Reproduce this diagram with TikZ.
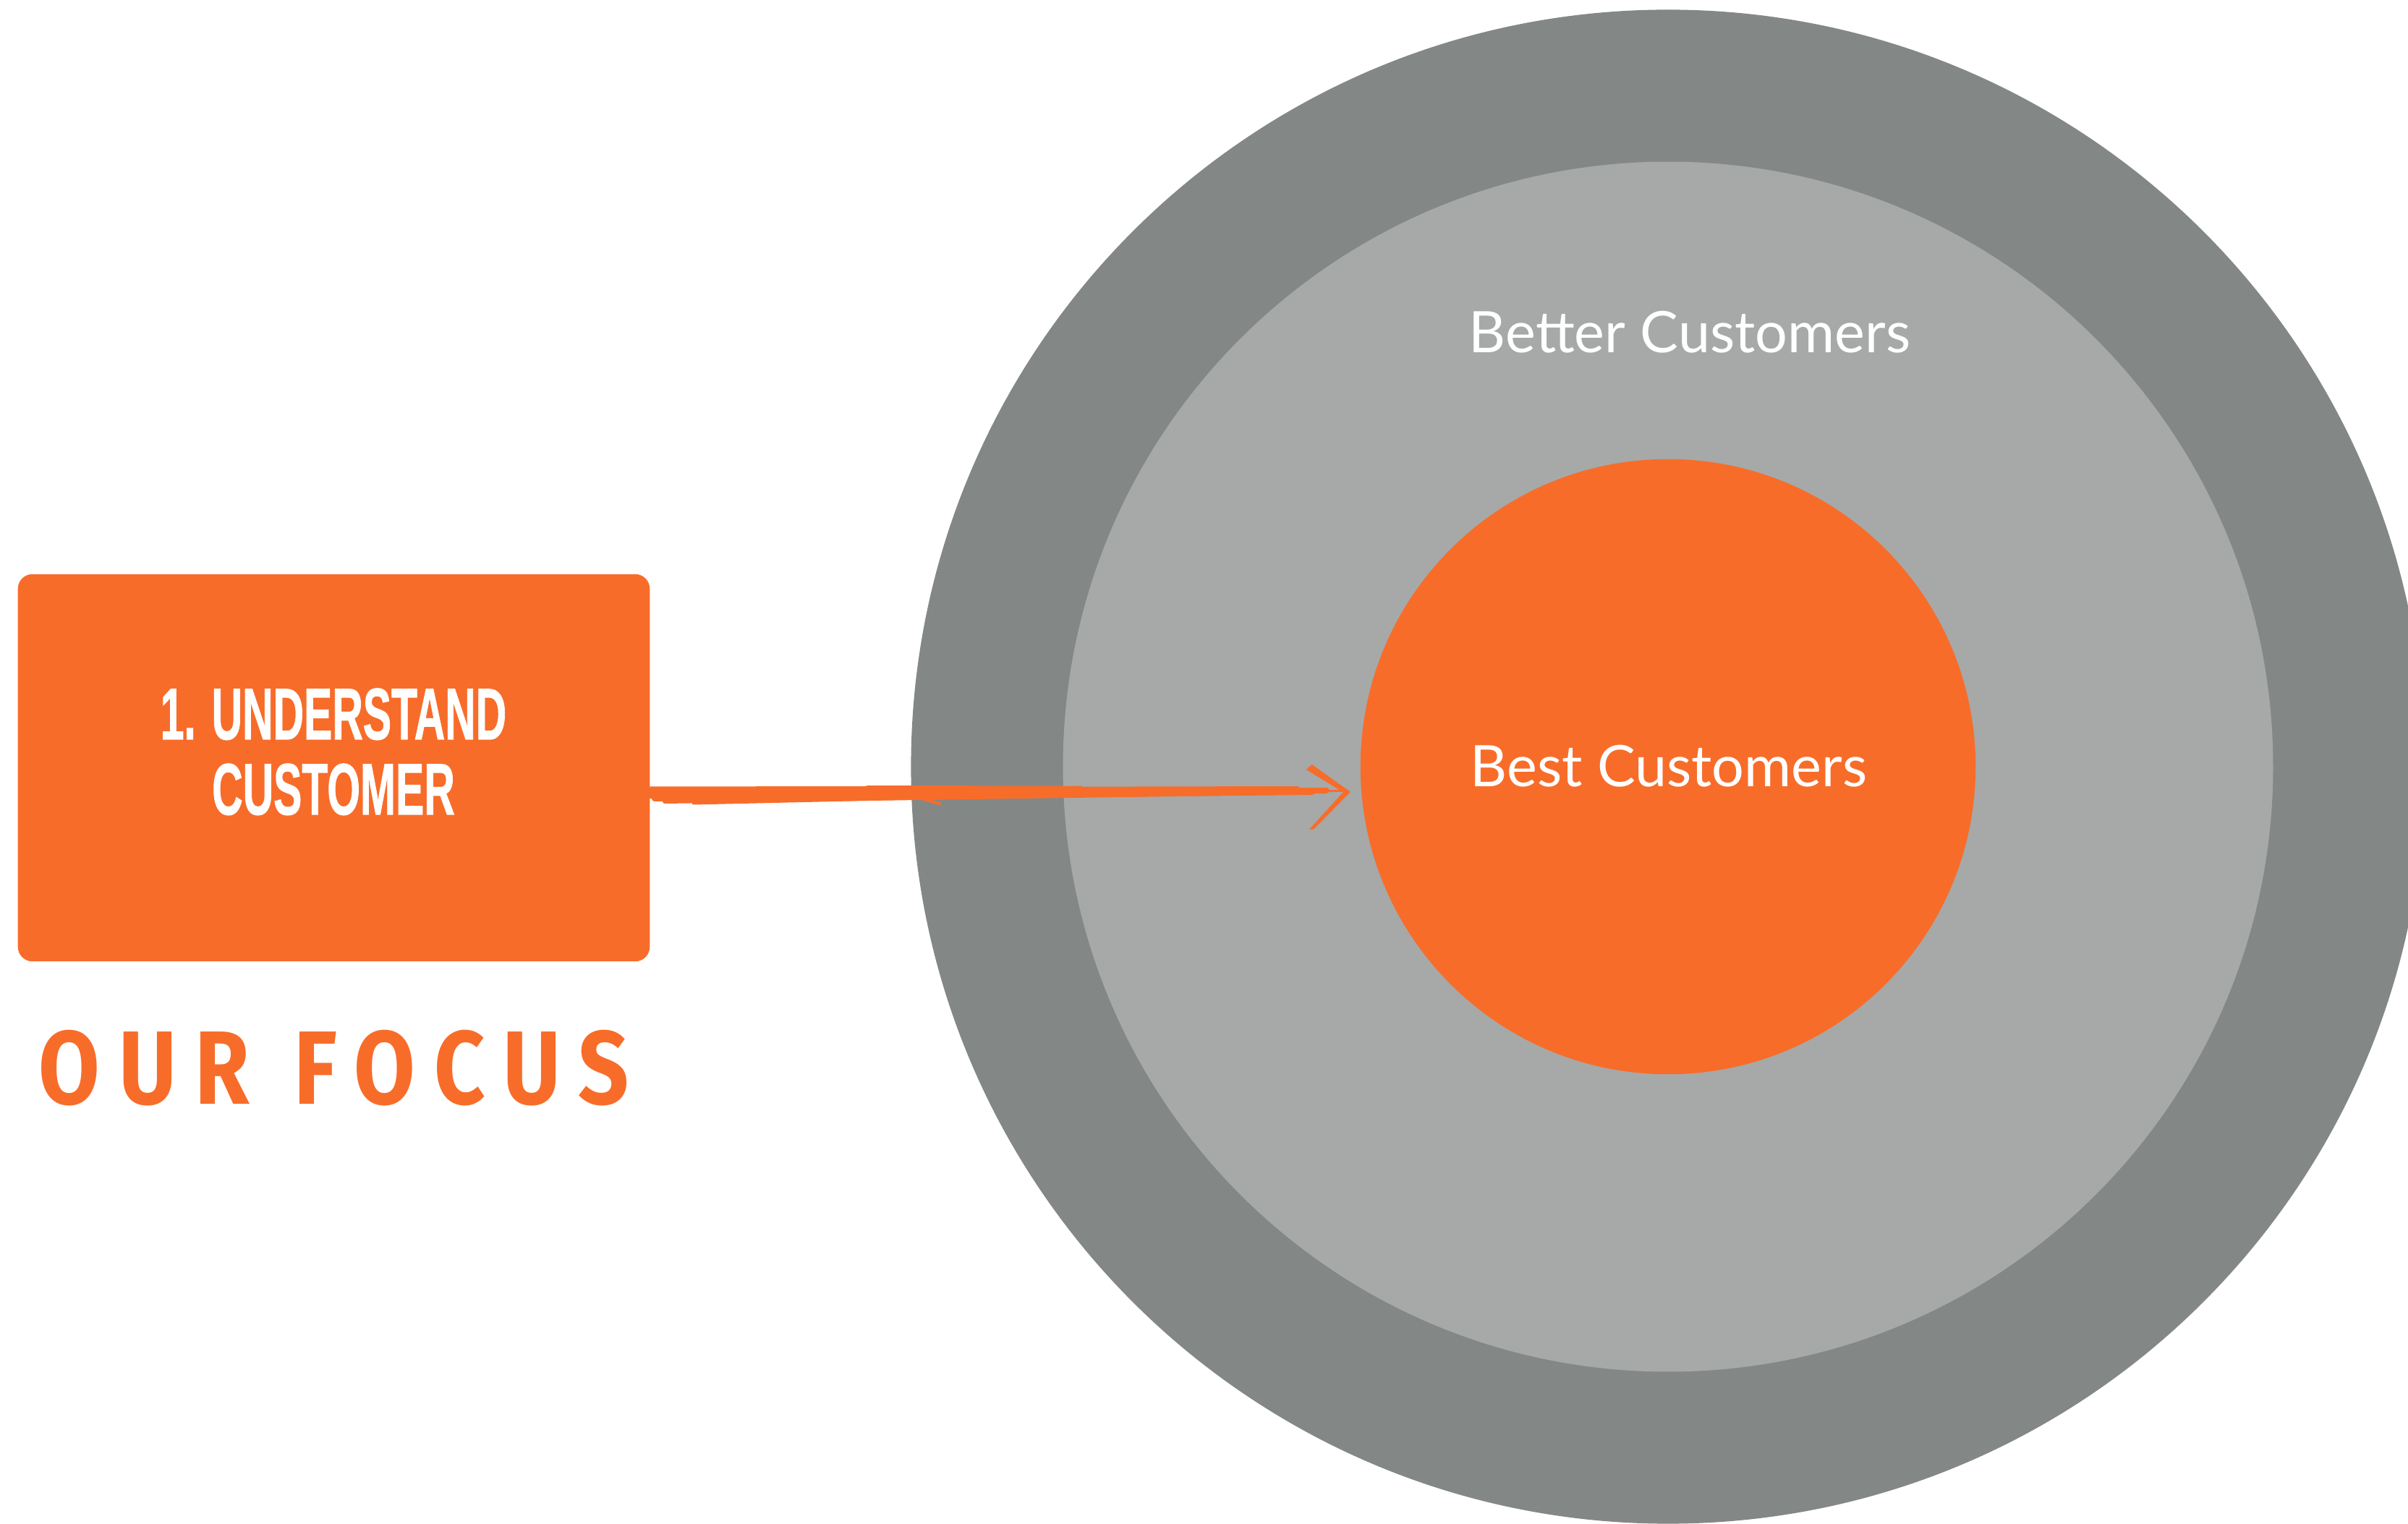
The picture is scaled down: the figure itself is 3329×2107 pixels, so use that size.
\documentclass[tikz,border=0pt]{standalone}
\usepackage{fontspec}
\usepackage{graphicx}
\setmainfont{Lato}
\newfontfamily\headfont{Liberation Sans}[FakeBold=1.2]
\newfontfamily\handfont{Fira Sans}
\usetikzlibrary{calc}

\definecolor{brand}{RGB}{248,108,42}
\definecolor{ringdark}{RGB}{131,135,134}
\definecolor{ringlight}{RGB}{166,169,168}

\tikzset{
  ring/.style={circle, inner sep=0pt, outer sep=0pt, draw=none},
  card/.style={rectangle, rounded corners=0.2cm, fill=brand, draw=none,
    inner sep=0pt, minimum width=8.73cm, minimum height=5.35cm},
  cardtext/.style={text=white, inner sep=0pt, anchor=base,
    font=\headfont\bfseries\fontsize{28.6pt}{30pt}\selectfont},
  ringtext/.style={text=white, inner sep=0pt, anchor=base,
    font=\fontsize{22.5pt}{26pt}\selectfont},
  handtext/.style={text=brand, inner sep=0pt, anchor=base west,
    font=\handfont\bfseries\fontsize{41pt}{44pt}\selectfont},
  strand/.style={draw=brand, line cap=round},
}

\begin{document}
\begin{tikzpicture}[x=0.01cm, y=-0.01cm]
  \useasboundingbox (0,0) rectangle (3329,2107);
  \clip (0,0) rectangle (3329,2107);

  % target rings
  \node[ring, fill=ringdark,  minimum size=20.92cm] (outer)  at (2306,1060) {};
  \node[ring, fill=ringlight, minimum size=16.72cm] (middle) at (2306,1060) {};
  \node[ring, fill=brand,     minimum size=8.50cm]  (inner)  at (2306,1060) {};

  \node[ringtext] (better) at (2336,488) {Better Customers};
  \node[ringtext] (best)   at (2307,1088) {Best Customers};

  % step card
  \node[card] (card) at (461.5,1061.5) {};
  \node[cardtext] (stepA) at (461,1022) {\scalebox{0.585}[1]{1. UNDERSTAND}};
  \node[cardtext] (stepB) at (461,1126) {\scalebox{0.585}[1]{CUSTOMER}};

  % hand-lettered caption
  \node[handtext] (focus) at (53,1527)
    {\scalebox{0.85}[1]{\addfontfeature{LetterSpace=21}OUR\hspace{0.5em}FOCUS}};

  % brush-stroke arrow from the card to the centre
  \coordinate (tail) at (card.east |- 0,1099);
  \coordinate (tip)  at ($(inner.west)+(-17,34)$);

  \foreach \a/\b/\c/\d/\w in {
      0/-6/-70/-3/8,
      2/0/-30/-1/8,
      6/5/-50/1/8,
      20/9/-170/3/6,
      0/-9/-370/-5/5,
      60/11/-470/6/5,
      0/2/-260/2/6,
      300/-11/-520/-6/4,
      400/12/-600/7/4}{
    \draw[strand, line width=\w*0.01cm]
      ($(tail)+(\a,\b)$) -- ($(tip)+(\c,\d)$);
  }
  \draw[strand, line width=0.03cm] ($(tip)+(-470,0)$) -- (tip);

  % arrow head barbs
  \fill[brand] ($(tip)+(-58,-30)$) -- ($(tip)+(-50,-37)$) -- ($(tip)+(2,0)$)
    -- ($(tip)+(-4,3)$) -- cycle;
  \fill[brand] ($(tip)+(-4,-2)$) -- ($(tip)+(3,1)$) -- ($(tip)+(-47,52)$)
    -- ($(tip)+(-54,53)$) -- cycle;
\end{tikzpicture}
\end{document}
